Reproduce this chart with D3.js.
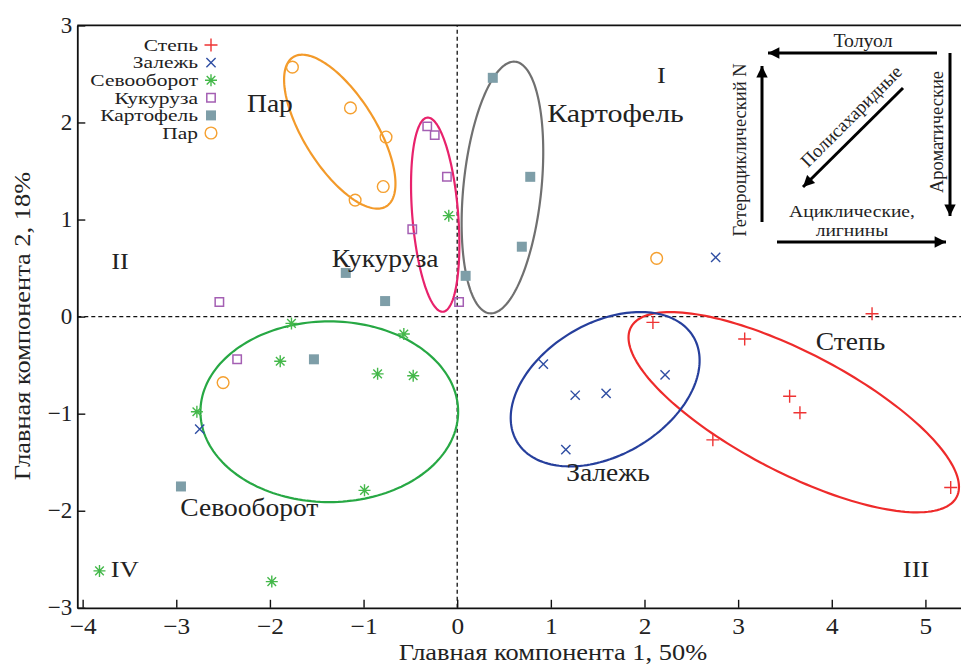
<!DOCTYPE html>
<html>
<head>
<meta charset="utf-8">
<script src="https://cdn.jsdelivr.net/npm/d3@7"></script>
<style>
  body { margin: 0; background: #fff; }
  svg text { font-family: "Liberation Serif", "Times New Roman", serif; fill: #222; }
</style>
</head>
<body>
<script>
var w = 961;
var h = 665;

// tick values
var xTicks = [-4, -3, -2, -1, 0, 1, 2, 3, 4, 5];
var yTicks = [-3, -2, -1, 0, 1, 2, 3];

// groups (legend order)
var groups = ["Степь", "Залежь", "Севооборот", "Кукуруза", "Картофель", "Пар"];
var colors = ["#ee3333", "#2f4ea3", "#44b84a", "#a45fb3", "#7e9ea8", "#f5a030"];
var ellColors = ["#ee2b2b", "#263f9c", "#27a844", "#e8226c", "#707070", "#f39a2a"];

// scores
var stepX = [2.09, 4.43, 3.07, 3.55, 3.66, 2.73, 5.27];
var stepY = [-0.06, 0.03, -0.23, -0.82, -0.99, -1.27, -1.76];

var zalX = [2.76, 0.92, 1.26, 1.59, 2.22, 1.16, -2.75];
var zalY = [0.61, -0.49, -0.81, -0.79, -0.60, -1.37, -1.16];

var sevX = [-1.77, -0.57, -1.89, -0.85, -0.47, -2.78, -0.99, -0.09, -3.82, -1.98];
var sevY = [-0.07, -0.18, -0.46, -0.59, -0.61, -0.98, -1.79, 1.04, -2.62, -2.73];

var kukX = [-0.32, -0.24, -0.11, -0.48, 0.02, -2.54, -2.35];
var kukY = [1.96, 1.87, 1.44, 0.90, 0.15, 0.15, -0.44];

var kartX = [0.38, 0.78, 0.69, 0.09, -1.19, -0.77, -1.53, -2.95];
var kartY = [2.46, 1.44, 0.72, 0.42, 0.45, 0.16, -0.44, -1.75];

var parX = [-1.76, -1.14, -0.76, -0.79, -1.09, 2.13, -2.50];
var parY = [2.57, 2.15, 1.85, 1.34, 1.20, 0.60, -0.68];

// confidence ellipses: centre, semi-axes (x units), tilt (deg, on screen)
var ellCx = [3.594, 1.58, -1.366, -0.235, 0.483, -1.254];
var ellCy = [-0.985, -0.748, -0.98, 1.05, 1.33, 1.905];
var ellA = [1.961, 1.096, 1.376, 1.04, 1.35, 0.939];
var ellB = [0.641, 0.704, 0.965, 0.245, 0.416, 0.384];
var ellAngle = [27.5, -30.7, 0, 85.4, -84.2, 58];

// group labels
var labelText = ["Пар", "Кукуруза", "Картофель", "Степь", "Залежь", "Севооборот"];
var labelX = [-2.0, -0.77, 1.69, 4.2, 1.61, -2.22];
var labelY = [2.2, 0.6, 2.1, -0.25, -1.60, -1.96];

var quadText = ["I", "II", "III", "IV"];
var quadX = [2.18, -3.6, 4.9, -3.55];
var quadY = [2.49, 0.58, -2.6, -2.6];

var pts = [
  d3.zip(stepX, stepY),
  d3.zip(zalX, zalY),
  d3.zip(sevX, sevY),
  d3.zip(kukX, kukY),
  d3.zip(kartX, kartY),
  d3.zip(parX, parY)
];

var x = d3.scaleLinear().domain([-4.057, 5.38]).range([77.3, 961]);
var y = d3.scaleLinear().domain([-3, 3]).range([607.8, 25.4]);
var unit = x(1) - x(0);
var sx = 1.1; // the typeset text runs a little wide

var svg = d3.select("body").append("svg").attr("width", w).attr("height", h);

// helper for horizontally stretched text
function label(g, txt, px, py, size, anchor, stretch) {
  return g.append("text")
    .attr("transform", "translate(" + px + "," + py + ") scale(" + (stretch || sx) + ",1)")
    .attr("text-anchor", anchor || "middle")
    .attr("dy", "0.35em")
    .attr("font-size", size)
    .text(txt);
}

// zero lines
svg.append("line")
  .attr("x1", x.range()[0]).attr("x2", x.range()[1])
  .attr("y1", y(0)).attr("y2", y(0))
  .attr("stroke", "#111").attr("stroke-width", 1.3).attr("stroke-dasharray", "4,3");
svg.append("line")
  .attr("x1", x(0)).attr("x2", x(0))
  .attr("y1", y.range()[0]).attr("y2", y.range()[1])
  .attr("stroke", "#111").attr("stroke-width", 1.3).attr("stroke-dasharray", "4,3");

// ellipses
var ellLine = d3.line();
svg.selectAll("path.ell")
  .data(d3.range(ellCx.length))
  .enter()
  .append("path")
  .attr("class", "ell")
  .attr("d", function (i) {
    var th = ellAngle[i] * Math.PI / 180;
    var a = ellA[i] * unit, b = ellB[i] * unit;
    var cx = x(ellCx[i]), cy = y(ellCy[i]);
    var ring = d3.range(0, 2 * Math.PI, Math.PI / 90).map(function (t) {
      return [
        cx + a * Math.cos(t) * Math.cos(th) - b * Math.sin(t) * Math.sin(th),
        cy + a * Math.cos(t) * Math.sin(th) + b * Math.sin(t) * Math.cos(th)
      ];
    });
    return ellLine(ring) + "Z";
  })
  .attr("fill", "none")
  .attr("stroke", function (i) { return ellColors[i]; })
  .attr("stroke-width", 2.2);

// marker shapes
var shapes = [
  { d: "M-6.5,0H6.5M0,-6.5V6.5", fill: false },
  { d: "M-4.6,-4.6L4.6,4.6M-4.6,4.6L4.6,-4.6", fill: false },
  { d: "M-6,0H6M0,-6V6M-4.3,-4.3L4.3,4.3M-4.3,4.3L4.3,-4.3", fill: false },
  { d: "M-4.2,-4.2H4.2V4.2H-4.2Z", fill: false },
  { d: "M-5,-5H5V5H-5Z", fill: true },
  { d: d3.symbol(d3.symbolCircle, 108)(), fill: false }
];

function drawMarker(g, k, px, py) {
  g.append("path")
    .attr("transform", "translate(" + px + "," + py + ")")
    .attr("d", shapes[k].d)
    .attr("fill", shapes[k].fill ? colors[k] : "none")
    .attr("stroke", shapes[k].fill ? "none" : colors[k])
    .attr("stroke-width", k === 3 ? 1.5 : 1.4);
}

var marks = svg.append("g");
pts.forEach(function (arr, k) {
  arr.forEach(function (p) {
    drawMarker(marks, k, x(p[0]), y(p[1]));
  });
});

// axes
var fmt = d3.format("d");
var xAxis = d3.axisBottom(x).tickValues(xTicks).tickFormat(fmt)
  .tickSizeInner(-8).tickSizeOuter(0).tickPadding(10);
var yAxis = d3.axisLeft(y).tickValues(yTicks).tickFormat(fmt)
  .tickSizeInner(-8).tickSizeOuter(0).tickPadding(5);

var gx = svg.append("g").attr("transform", "translate(0," + y.range()[0] + ")").call(xAxis);
var gy = svg.append("g").attr("transform", "translate(" + x.range()[0] + ",0)").call(yAxis);
[gx, gy].forEach(function (g) {
  g.select(".domain").attr("stroke", "#111").attr("stroke-width", 1.8);
  g.selectAll(".tick line").attr("stroke", "#111").attr("stroke-width", 1.4);
  g.selectAll(".tick text")
    .attr("font-size", 23)
    .attr("fill", "#222");
});
gx.selectAll(".tick text").attr("transform", "scale(" + sx + ",1)");
gy.selectAll(".tick text").attr("dy", "0.3em");

// top frame line
svg.append("line")
  .attr("x1", x.range()[0]).attr("x2", x.range()[1])
  .attr("y1", y.range()[1]).attr("y2", y.range()[1])
  .attr("stroke", "#111").attr("stroke-width", 1.8);

// axis titles
label(svg, "Главная компонента 1, 50%", 553, 652, 24);
svg.append("text")
  .attr("transform", "translate(22,326) rotate(-90) scale(" + sx + ",1)")
  .attr("text-anchor", "middle")
  .attr("dy", "0.35em")
  .attr("font-size", 24)
  .text("Главная компонента 2, 18%");

// group labels and quadrant numbers
labelText.forEach(function (t, i) {
  label(svg, t, x(labelX[i]), y(labelY[i]), 25, "middle", t === "Картофель" ? 1.2 : sx);
});
quadText.forEach(function (t, i) {
  label(svg, t, x(quadX[i]), y(quadY[i]), 24);
});

// legend
var leg = svg.append("g");
groups.forEach(function (gname, k) {
  var ly = 45 + k * 17.6;
  label(leg, gname, 198, ly, 16.5, "end", 1.3);
  drawMarker(leg, k, 211, ly);
});

// inset: direction diagram
svg.append("defs").append("marker")
  .attr("id", "head")
  .attr("viewBox", "0 0 10 10")
  .attr("refX", 10).attr("refY", 5)
  .attr("markerWidth", 4.5).attr("markerHeight", 3.8)
  .attr("orient", "auto")
  .append("path").attr("d", "M0,0L10,5L0,10Z").attr("fill", "#000");

var arrows = [
  [937, 53, 768, 53],
  [950, 53, 950, 216],
  [762, 222, 762, 66],
  [777, 242, 946, 242],
  [903, 88, 803, 187]
];
var ins = svg.append("g");
arrows.forEach(function (a) {
  ins.append("line")
    .attr("x1", a[0]).attr("y1", a[1]).attr("x2", a[2]).attr("y2", a[3])
    .attr("stroke", "#000").attr("stroke-width", 3)
    .attr("marker-end", "url(#head)");
});
label(ins, "Толуол", 863, 41, 18);
label(ins, "Ациклические,", 852, 211, 17, "middle", 1.15);
label(ins, "лигнины", 852, 230, 17, "middle", 1.15);
ins.append("text")
  .attr("transform", "translate(937,132) rotate(-90)")
  .attr("text-anchor", "middle").attr("dy", "0.35em").attr("font-size", 18.5)
  .text("Ароматические");
ins.append("text")
  .attr("transform", "translate(740,150) rotate(-90)")
  .attr("text-anchor", "middle").attr("dy", "0.35em").attr("font-size", 18.5)
  .text("Гетероциклический N");
ins.append("text")
  .attr("transform", "translate(851,116) rotate(-45)")
  .attr("text-anchor", "middle").attr("dy", "0.35em").attr("font-size", 18.5)
  .text("Полисахаридные");
</script>
</body>
</html>
